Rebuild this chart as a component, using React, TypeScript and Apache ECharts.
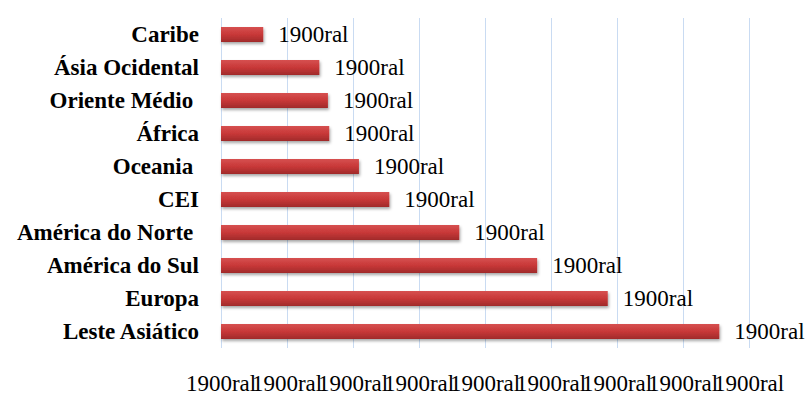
import React, { useEffect, useRef } from "react";
import * as echarts from "echarts";

const categories = [
  "Leste Asiático",
  "Europa",
  "América do Sul",
  "América do Norte ",
  "CEI",
  "Oceania ",
  "África",
  "Oriente Médio ",
  "Ásia Ocidental",
  "Caribe",
];
const values = [7.55, 5.86, 4.79, 3.61, 2.55, 2.09, 1.64, 1.62, 1.49, 0.64];
const valueLabel = "1900ral";
const tickLabel = "1900ral";

const tickLabelStyle = {
  fontFamily: "Liberation Serif",
  fontSize: 23,
  color: "#000",
  margin: 24,
  hideOverlap: false,
  showMinLabel: true,
  showMaxLabel: true,
};

export default function App() {
  const ref = useRef<HTMLDivElement>(null);
  useEffect(() => {
    if (!ref.current) return;
    const chart = echarts.init(ref.current, null, { renderer: "svg" });
    chart.setOption({
      animation: false,
      backgroundColor: "#ffffff",
      grid: { left: 221, right: 58, top: 18, bottom: 47 },
      xAxis: [
        {
          type: "value",
          min: 0,
          max: 8,
          interval: 1,
          position: "bottom",
          axisLine: { show: false },
          axisTick: { show: false },
          splitLine: { show: true, lineStyle: { color: "#c9dbf2", width: 1 } },
          axisLabel: {
            ...tickLabelStyle,
            formatter: (v: number) => (Math.round(v) % 2 === 0 ? tickLabel : ""),
          },
        },
        {
          type: "value",
          min: 0,
          max: 8,
          interval: 1,
          position: "bottom",
          offset: 0,
          axisLine: { show: false },
          axisTick: { show: false },
          splitLine: { show: false },
          axisLabel: {
            ...tickLabelStyle,
            formatter: (v: number) => (Math.round(v) % 2 === 1 ? tickLabel : ""),
          },
        },
      ],
      yAxis: {
        type: "category",
        data: categories,
        axisLine: { show: false },
        axisTick: { show: false },
        splitLine: { show: false },
        axisLabel: {
          fontFamily: "Liberation Serif",
          fontWeight: "bold",
          fontSize: 23,
          color: "#000",
          margin: 22,
          interval: 0,
        },
      },
      series: [
        {
          type: "bar",
          xAxisIndex: 0,
          data: values,
          barWidth: 15,
          itemStyle: {
            color: new echarts.graphic.LinearGradient(0, 0, 0, 1, [
              { offset: 0, color: "#d65050" },
              { offset: 0.5, color: "#c83838" },
              { offset: 1, color: "#a02a2a" },
            ]),
            shadowBlur: 3,
            shadowOffsetY: 2,
            shadowOffsetX: 1,
            shadowColor: "rgba(0,0,0,0.35)",
          },
          label: {
            show: true,
            position: "right",
            distance: 15,
            formatter: () => valueLabel,
            fontFamily: "Liberation Serif",
            fontSize: 23,
            color: "#000",
          },
        },
      ],
    });
    return () => chart.dispose();
  }, []);
  return (
    <div
      ref={ref}
      style={{ position: "fixed", left: 0, top: 0, width: 807, height: 395 }}
    />
  );
}
